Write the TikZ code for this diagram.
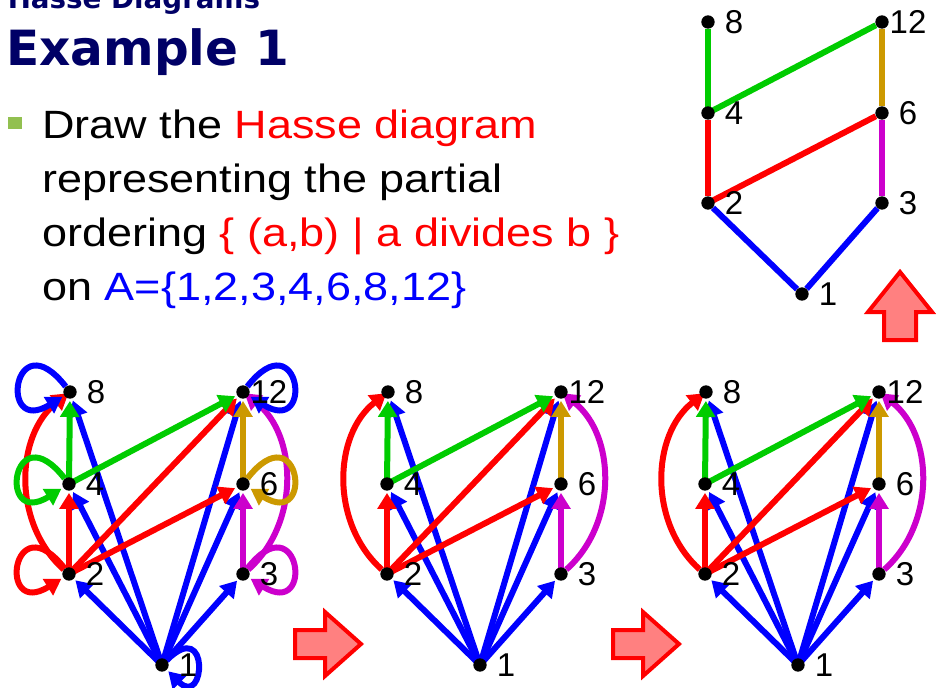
\documentclass[tikz,border=0pt]{standalone}
\usepackage{fontspec}
\setmainfont{Liberation Sans}
\newfontfamily\titlefont{DejaVu Sans}
\newfontfamily\bodyfont[FakeStretch=1.14]{Liberation Sans}
\usetikzlibrary{arrows.meta,backgrounds}

\definecolor{navy}{RGB}{0,0,102}
\definecolor{hblue}{RGB}{0,0,255}
\definecolor{hred}{RGB}{255,0,0}
\definecolor{hgreen}{RGB}{0,204,0}
\definecolor{hgold}{RGB}{204,153,0}
\definecolor{hmagenta}{RGB}{204,0,204}
\definecolor{bulletgreen}{RGB}{146,192,80}
\definecolor{arrowfill}{RGB}{255,128,128}

\begin{document}
\begin{tikzpicture}[x=0.75pt, y=-0.75pt,
	dot/.style={circle, fill=black, inner sep=0pt, minimum size=10pt},
	lbl/.style={font=\fontsize{24.75}{28}\selectfont, xshift=19.5pt},
	texto/.style={anchor=base west, inner sep=0pt, font=\bodyfont\fontsize{29.6}{34}\selectfont},
	rel/.style={line width=4.5pt, -{Triangle[length=12pt, width=14pt]}, shorten >=1.5pt},
	hline/.style={line width=4.5pt},
	selfleft/.style={out=128, in=212, min distance=64pt},
	selfright/.style={out=52, in=-32, min distance=64pt},
	bigarrow/.style={draw=hred, fill=arrowfill, line width=3pt}]
	
	\useasboundingbox (0,0) rectangle (940,687);
	
	% Titulo
	\node[anchor=base west, inner sep=0pt, text=navy, font=\titlefont\bfseries\fontsize{20.8}{24}\selectfont] (tema) at (7.5,8) {Hasse Diagrams};
	\node[anchor=base west, inner sep=0pt, text=navy, font=\titlefont\bfseries\fontsize{36.4}{42}\selectfont] (titulo) at (6,65) {Example 1};
	
	% Texto
	\fill[bulletgreen] (8,117) rectangle (22,129);
	\node[texto] (linea1) at (42,138) {Draw the \textcolor{hred}{Hasse diagram}};
	\node[texto] (linea2) at (42,192) {representing the partial};
	\node[texto] (linea3) at (42,246) {ordering \textcolor{hred}{\{ (a,b) | a divides b \}}};
	\node[texto] (linea4) at (42,300) {on \textcolor{hblue}{A=\{1,2,3,4,6,8,12\}}};
	
	% Relacion completa
	\begin{scope}[shift={(162,665)}, name prefix=a-]
		\node[dot, label={[lbl]center:1}] (n1) at (0,0) {};
		\node[dot, label={[lbl]center:2}] (n2) at (-93,-91) {};
		\node[dot, label={[lbl]center:3}] (n3) at (81,-91) {};
		\node[dot, label={[lbl]center:4}] (n4) at (-93,-181) {};
		\node[dot, label={[lbl]center:6}] (n6) at (81,-181) {};
		\node[dot, label={[lbl]center:8}] (n8) at (-92,-273) {};
		\node[dot, label={[lbl]center:12}] (n12) at (81,-273) {};
		\begin{scope}[on background layer]
			% Flechas desde 1
			\draw[rel, hblue] (n1.center) -- (n2);
			\draw[rel, hblue] (n1.center) -- (n3);
			\draw[rel, hblue] (n1.center) -- (n4);
			\draw[rel, hblue] (n1.center) -- (n6);
			\draw[rel, hblue] (n1.center) -- (n8);
			\draw[rel, hblue] (n1.center) -- (n12);
			% Flechas desde 2
			\draw[rel, hred] (n2.center) -- (n4);
			\draw[rel, hred] (n2.center) -- (n6);
			\draw[rel, hred] (n2.center) -- (n12);
			\draw[rel, hred] (n2) to[bend left=50] (n8);
			% Flechas desde 3, 4 y 6
			\draw[rel, hmagenta] (n3.center) -- (n6);
			\draw[rel, hmagenta] (n3) to[bend right=50] (n12);
			\draw[rel, hgreen] (n4.center) -- (n8);
			\draw[rel, hgreen] (n4.center) -- (n12);
			\draw[rel, hgold] (n6.center) -- (n12);
			% Lazos
			\draw[rel, hblue] (n1) to[out=45, in=-45, min distance=46pt] (n1);
			\draw[rel, hred] (n2) to[selfleft] (n2);
			\draw[rel, hgreen] (n4) to[selfleft] (n4);
			\draw[rel, hblue] (n8) to[selfleft] (n8);
			\draw[rel, hmagenta] (n3) to[selfright] (n3);
			\draw[rel, hgold] (n6) to[selfright] (n6);
			\draw[rel, hblue] (n12) to[selfright] (n12);
		\end{scope}
	\end{scope}
	
	% Sin lazos
	\begin{scope}[shift={(480,665)}, name prefix=b-]
		\node[dot, label={[lbl]center:1}] (n1) at (0,0) {};
		\node[dot, label={[lbl]center:2}] (n2) at (-93,-91) {};
		\node[dot, label={[lbl]center:3}] (n3) at (81,-91) {};
		\node[dot, label={[lbl]center:4}] (n4) at (-93,-181) {};
		\node[dot, label={[lbl]center:6}] (n6) at (81,-181) {};
		\node[dot, label={[lbl]center:8}] (n8) at (-92,-273) {};
		\node[dot, label={[lbl]center:12}] (n12) at (81,-273) {};
		\begin{scope}[on background layer]
			\draw[rel, hblue] (n1.center) -- (n2);
			\draw[rel, hblue] (n1.center) -- (n3);
			\draw[rel, hblue] (n1.center) -- (n4);
			\draw[rel, hblue] (n1.center) -- (n6);
			\draw[rel, hblue] (n1.center) -- (n8);
			\draw[rel, hblue] (n1.center) -- (n12);
			\draw[rel, hred] (n2.center) -- (n4);
			\draw[rel, hred] (n2.center) -- (n6);
			\draw[rel, hred] (n2.center) -- (n12);
			\draw[rel, hred] (n2) to[bend left=50] (n8);
			\draw[rel, hmagenta] (n3.center) -- (n6);
			\draw[rel, hmagenta] (n3) to[bend right=50] (n12);
			\draw[rel, hgreen] (n4.center) -- (n8);
			\draw[rel, hgreen] (n4.center) -- (n12);
			\draw[rel, hgold] (n6.center) -- (n12);
		\end{scope}
	\end{scope}
	
	% Tercer paso
	\begin{scope}[shift={(798,665)}, name prefix=c-]
		\node[dot, label={[lbl]center:1}] (n1) at (0,0) {};
		\node[dot, label={[lbl]center:2}] (n2) at (-93,-91) {};
		\node[dot, label={[lbl]center:3}] (n3) at (81,-91) {};
		\node[dot, label={[lbl]center:4}] (n4) at (-93,-181) {};
		\node[dot, label={[lbl]center:6}] (n6) at (81,-181) {};
		\node[dot, label={[lbl]center:8}] (n8) at (-92,-273) {};
		\node[dot, label={[lbl]center:12}] (n12) at (81,-273) {};
		\begin{scope}[on background layer]
			\draw[rel, hblue] (n1.center) -- (n2);
			\draw[rel, hblue] (n1.center) -- (n3);
			\draw[rel, hblue] (n1.center) -- (n4);
			\draw[rel, hblue] (n1.center) -- (n6);
			\draw[rel, hblue] (n1.center) -- (n8);
			\draw[rel, hblue] (n1.center) -- (n12);
			\draw[rel, hred] (n2.center) -- (n4);
			\draw[rel, hred] (n2.center) -- (n6);
			\draw[rel, hred] (n2.center) -- (n12);
			\draw[rel, hred] (n2) to[bend left=50] (n8);
			\draw[rel, hmagenta] (n3.center) -- (n6);
			\draw[rel, hmagenta] (n3) to[bend right=50] (n12);
			\draw[rel, hgreen] (n4.center) -- (n8);
			\draw[rel, hgreen] (n4.center) -- (n12);
			\draw[rel, hgold] (n6.center) -- (n12);
		\end{scope}
	\end{scope}
	
	% Diagrama de Hasse
	\begin{scope}[shift={(802,294)}, name prefix=d-]
		\node[dot, label={[lbl]center:1}] (n1) at (0,0) {};
		\node[dot, label={[lbl]center:2}] (n2) at (-94,-91) {};
		\node[dot, label={[lbl]center:3}] (n3) at (80,-91) {};
		\node[dot, label={[lbl]center:4}] (n4) at (-94,-181) {};
		\node[dot, label={[lbl]center:6}] (n6) at (80,-181) {};
		\node[dot, label={[lbl]center:8}] (n8) at (-94,-272) {};
		\node[dot, label={[lbl]center:12}] (n12) at (80,-272) {};
		\begin{scope}[on background layer]
			\draw[hline, hblue] (n1) -- (n2);
			\draw[hline, hblue] (n1) -- (n3);
			\draw[hline, hred] (n2) -- (n4);
			\draw[hline, hred] (n2.center) -- (n6);
			\draw[hline, hmagenta] (n3) -- (n6);
			\draw[hline, hgreen] (n4.center) -- (n8);
			\draw[hline, hgreen] (n4.center) -- (n12);
			\draw[hline, hgold] (n6) -- (n12);
		\end{scope}
	\end{scope}
	
	% Flechas grandes
	\draw[bigarrow] (295,630) -- (325,630) -- (325,612) -- (361,644) -- (325,676) -- (325,658) -- (295,658) -- cycle;
	\draw[bigarrow] (613,630) -- (643,630) -- (643,612) -- (679,644) -- (643,676) -- (643,658) -- (613,658) -- cycle;
	\draw[bigarrow] (900,272) -- (932,312) -- (916,312) -- (916,340) -- (884,340) -- (884,312) -- (868,312) -- cycle;
	
\end{tikzpicture}
\end{document}
